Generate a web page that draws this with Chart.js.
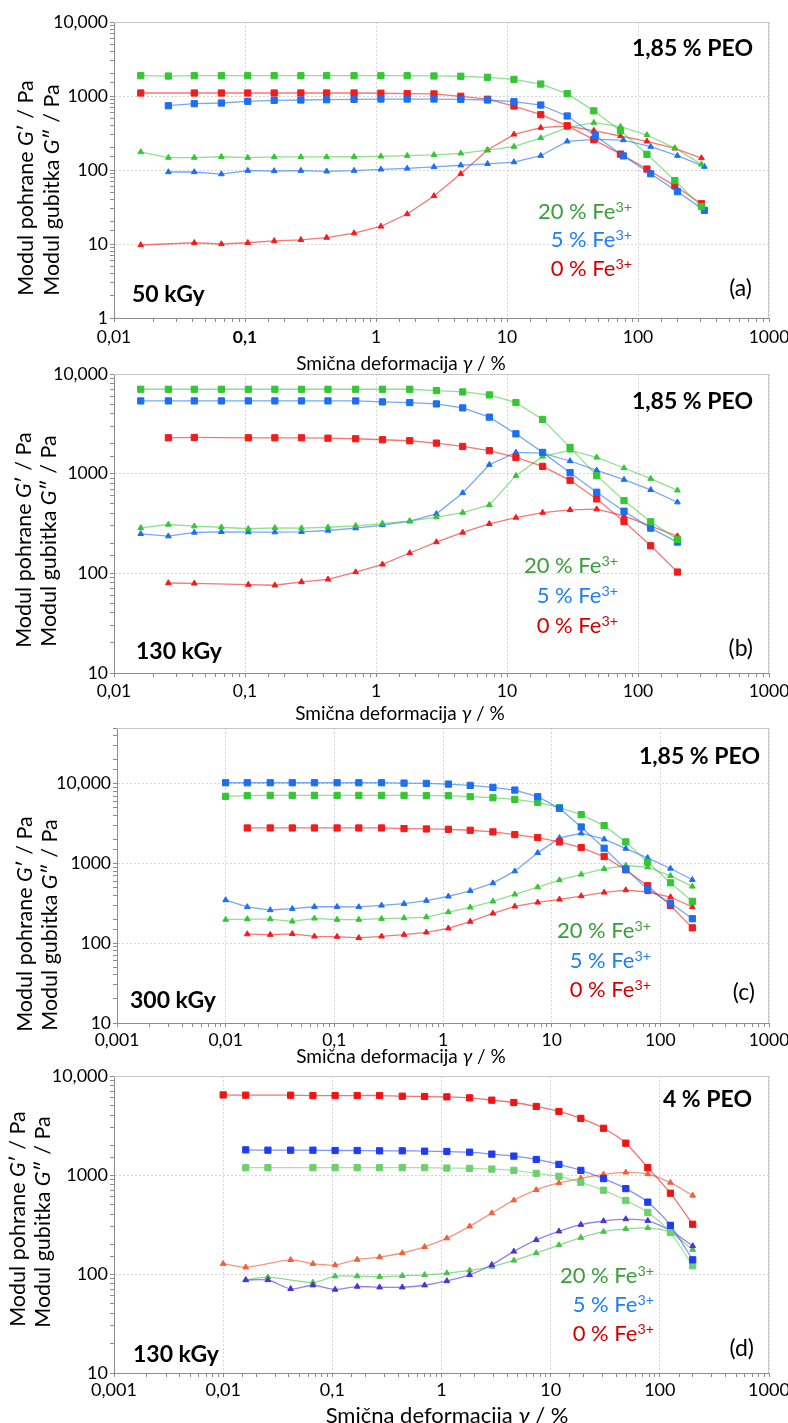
<!DOCTYPE html>
<html>
<head>
<meta charset="utf-8">
<script src="https://cdn.jsdelivr.net/npm/chart.js@4.4.1/dist/chart.umd.min.js"></script>
<style>
  body { margin: 0; width: 788px; height: 1423px; background: #fff; position: relative; overflow: hidden;
         font-family: Lato, "Open Sans", sans-serif; color: #000; }
  canvas { position: absolute; left: 0; }
  .t { position: absolute; white-space: nowrap; line-height: 1; }
  .ytitle { transform: translate(-50%, -50%) rotate(-90deg); font-size: 21.5px; }
  .xtitle { transform: translate(-50%, -50%); font-size: 19px; }
  .right { transform: translate(-100%, -50%); }
  .left { transform: translate(0, -50%); }
  .bold { font-weight: bold; font-size: 23px; }
  .fe { font-size: 22px; }
  .tag { font-size: 23px; }
  sup { font-size: 0.65em; vertical-align: 0.5em; line-height: 0; }
</style>
</head>
<body>
<canvas id="chartA" width="788" height="350" style="top:0"></canvas>
<canvas id="chartB" width="788" height="350" style="top:350px"></canvas>
<canvas id="chartC" width="788" height="360" style="top:700px"></canvas>
<canvas id="chartD" width="788" height="363" style="top:1060px"></canvas>

<script>
// tick labels
const xTickLabels = ["0,001", "0,01", "0,1", "1", "10", "100", "1000"];
const yTickLabels = ["1", "10", "100", "1000", "10,000"];

// (a) 50 kGy, 1,85 % PEO -- strain in %, moduli in Pa
const xA = [0.016, 0.026, 0.041, 0.066, 0.105, 0.167, 0.267, 0.42, 0.68, 1.09, 1.73, 2.77, 4.44, 7.1, 11.3, 18.1, 28.8, 46, 73.5, 117, 191, 305];
const xA5 = [0.016, 0.026, 0.041, 0.066, 0.105, 0.167, 0.267, 0.42, 0.68, 1.09, 1.73, 2.77, 4.44, 7.1, 11.3, 18.1, 28.8, 47.2, 77.3, 125, 200, 321];
const aStore20 = [1880, 1860, 1880, 1880, 1880, 1880, 1880, 1880, 1880, 1880, 1880, 1865, 1850, 1790, 1680, 1450, 1075, 630, 340, 163, 72, 32];
const aStore5 = [null, 739, 787, 804, 848, 875, 883, 891, 902, 910, 910, 910, 902, 883, 838, 755, 537, 291, 155, 89, 51, 28.5];
const aStore0 = [1098, null, 1098, 1098, 1098, 1098, 1098, 1098, 1098, 1090, 1075, 1067, 991, 905, 732, 559, 397, 257, 164, 103, 61, 35];
const aLoss20 = [175, 147, 147, 151, 147, 150, 150, 150, 151, 153, 156, 160, 168, 185, 207, 271, 373, 436, 385, 297, 198, 119];
const aLoss5 = [null, 94, 94, 88, 98, 97, 98, 96, 98, 102, 105, 110, 116, 121, 128, 156, 244, 260, 254, 207, 156, 111];
const aLoss0 = [9.7, null, 10.4, 10.0, 10.4, 11.0, 11.4, 12.2, 14.0, 17.3, 25.4, 44.6, 89, 186, 303, 373, 393, 340, 288, 244, 196, 145];

// (b) 130 kGy, 1,85 % PEO
const xB = [0.016, 0.026, 0.041, 0.066, 0.106, 0.169, 0.27, 0.43, 0.70, 1.12, 1.81, 2.89, 4.59, 7.33, 11.7, 18.7, 30.3, 48.4, 78.2, 125, 200];
const bStore20 = [7030, 7030, 7030, 7030, 7030, 7030, 7030, 7030, 7030, 7030, 7030, 6810, 6610, 6170, 5170, 3500, 1834, 955, 537, 329, 219];
const bStore5 = [5370, 5370, 5370, 5370, 5370, 5370, 5370, 5370, 5370, 5250, 5170, 5010, 4570, 3690, 2510, 1635, 1023, 651, 420, 284, 206];
const bStore0 = [null, 2290, 2310, null, 2290, 2290, 2290, 2270, 2240, 2190, 2140, 2026, 1876, 1700, 1456, 1184, 858, 558, 331, 189, 103];
const bLoss20 = [286, 309, 297, 290, 280, 286, 284, 290, 300, 316, 334, 366, 407, 486, 955, 1490, 1712, 1456, 1140, 891, 681];
const bLoss5 = [249, 236, 257, 261, 259, 259, 261, 269, 284, 305, 334, 395, 641, 1230, 1635, 1610, 1340, 1080, 871, 688, 517];
const bLoss0 = [null, 80, 79.4, null, 77, 75.9, 82, 87, 103, 123, 160, 206, 257, 314, 363, 407, 433, 440, 377, 297, 236];

// (c) 300 kGy, 1,85 % PEO
const xC = [0.01, 0.0158, 0.0257, 0.041, 0.0656, 0.106, 0.168, 0.272, 0.438, 0.703, 1.12, 1.78, 2.88, 4.58, 7.44, 11.8, 18.7, 30.4, 48.1, 76.4, 124, 197];
const cStore20 = [6945, 7080, 7150, 7150, 7150, 7150, 7150, 7150, 7150, 7080, 7080, 6880, 6680, 6370, 5840, 5010, 4100, 2985, 1866, 1039, 573, 335];
const cStore5 = [10290, 10290, 10290, 10290, 10290, 10290, 10290, 10290, 10190, 10100, 9900, 9530, 9000, 8330, 6880, 4920, 2870, 1555, 849, 477, 319, 203];
const cStore0 = [null, 2790, 2790, 2790, 2790, 2790, 2790, 2790, 2738, 2712, 2685, 2610, 2490, 2305, 2113, 1866, 1585, 1223, 833, 526, 298, 156];
const cLoss20 = [198, 201, 201, 188, 205, 198, 198, 203, 207, 213, 246, 282, 335, 410, 506, 619, 729, 858, 944, 900, 701, 516];
const cLoss5 = [348, 285, 261, 271, 287, 287, 285, 298, 313, 342, 387, 455, 567, 801, 1360, 2094, 2395, 2015, 1540, 1178, 866, 625];
const cLoss0 = [null, 130, 128, 131, 122, 121, 117, 122, 128, 137, 154, 187, 237, 290, 325, 355, 391, 434, 464, 439, 380, 285];

// (d) 130 kGy, 4 % PEO
const xD = [0.01, 0.0161, 0.0257, 0.0415, 0.0664, 0.106, 0.169, 0.271, 0.437, 0.700, 1.12, 1.81, 2.89, 4.60, 7.38, 11.9, 18.9, 30.5, 48.8, 77.6, 125, 200];
const dStore0 = [6440, 6400, null, 6400, 6350, 6350, 6350, 6350, 6250, 6210, 6155, 6015, 5700, 5400, 4925, 4385, 3733, 2964, 2096, 1185, 655, 318];
const dStore5 = [null, 1795, 1781, 1781, 1781, 1768, 1768, 1755, 1755, 1741, 1728, 1701, 1625, 1552, 1436, 1280, 1114, 919, 729, 532, 310, 139];
const dStore20 = [null, 1185, 1185, null, 1185, 1185, 1185, 1185, 1185, 1185, 1175, 1166, 1148, 1114, 1039, 970, 844, 702, 552, 419, 262, 121];
const dLoss0 = [127, 117, null, 139, 127, 123, 140, 148, 163, 188, 230, 303, 412, 557, 707, 831, 926, 1015, 1063, 1023, 838, 621];
const dLoss5 = [null, 87, 87, 70.8, 77, 69.7, 74.7, 73.5, 73.5, 77, 85, 98, 124, 169, 221, 270, 315, 343, 359, 345, 274, 192];
const dLoss20 = [null, 87, 93, null, 82, 95, 95, 94, 96, 98, 102, 109, 119, 137, 163, 196, 233, 268, 285, 292, 262, 176];

const FONT = 'Lato, "Open Sans", sans-serif';

function isDecade(v) {
  const e = Math.log10(v);
  return Math.abs(e - Math.round(e)) < 1e-6;
}

function decadeLabel(v, labels, firstExp) {
  if (!isDecade(v)) return "";
  return labels[Math.round(Math.log10(v)) - firstExp] || "";
}

function series(xs, ys, color, line, shape) {
  const pts = [];
  xs.forEach((x, i) => {
    if (ys[i] != null) pts.push({ x: x, y: ys[i] });
  });
  return {
    data: pts,
    borderColor: line,
    backgroundColor: color,
    pointBackgroundColor: color,
    pointBorderColor: color,
    pointStyle: shape,
    pointRadius: shape === "rect" ? 4.4 : 3.3,
    pointBorderWidth: 1,
    borderWidth: 1.3,
  };
}

// light frame on top and right of the plot area
const frame = {
  id: "frame",
  beforeDatasetsDraw(chart) {
    const { ctx, chartArea: a } = chart;
    ctx.save();
    ctx.strokeStyle = "#c8c8c8";
    ctx.lineWidth = 1;
    ctx.beginPath();
    ctx.moveTo(a.left, a.top + 0.5);
    ctx.lineTo(a.right - 0.5, a.top + 0.5);
    ctx.lineTo(a.right - 0.5, a.bottom);
    ctx.stroke();
    ctx.restore();
  },
};

function gridColor(c) {
  return c.tick && isDecade(c.tick.value) ? "#d6d6d6" : "rgba(0,0,0,0)";
}

function drawPanel(id, p) {
  const canvas = document.getElementById(id);
  const H = canvas.height;
  return new Chart(canvas, {
    type: "line",
    data: { datasets: p.datasets },
    options: {
      responsive: false,
      animation: false,
      events: [],
      layout: { padding: { left: 0, top: p.top, right: 788 - p.right, bottom: 0 } },
      elements: { line: { tension: p.tension || 0 } },
      plugins: { legend: { display: false }, tooltip: { enabled: false } },
      scales: {
        x: {
          type: "logarithmic",
          min: p.xMin,
          max: 1000,
          border: { color: "#8c8c8c", dash: [2, 2] },
          grid: { color: gridColor, tickColor: "#8c8c8c", tickLength: 4 },
          ticks: {
            autoSkip: false,
            maxRotation: 0,
            minRotation: 0,
            padding: p.xPad,
            color: "#000",
            font: (c) => ({
              family: FONT,
              size: p.tickSize,
              weight: p.boldTenth && c.tick && Math.abs(c.tick.value - 0.1) < 1e-9 ? "bold" : "normal",
            }),
            callback: (v) => decadeLabel(v, xTickLabels, -3),
          },
          afterFit: (s) => {
            s.height = H - p.bottom;
            s.paddingLeft = 0;
            s.paddingRight = 0;
          },
        },
        y: {
          type: "logarithmic",
          min: p.yMin,
          max: p.yMax,
          border: { color: "#8c8c8c", dash: [2, 2] },
          grid: { color: gridColor, tickColor: "#8c8c8c", tickLength: 4 },
          ticks: {
            autoSkip: false,
            padding: 2,
            color: "#000",
            font: { family: FONT, size: p.tickSize },
            callback: (v) => decadeLabel(v, yTickLabels, 0),
          },
          afterFit: (s) => {
            s.width = p.left;
            s.paddingTop = 0;
            s.paddingBottom = 0;
          },
        },
      },
    },
    plugins: [frame],
  });
}

// colours
const G = "#34c634", GL = "rgba(52,198,52,0.55)";
const B = "#1c6ef4", BL = "rgba(28,110,244,0.6)";
const R = "#f21c1c", RL = "rgba(242,28,28,0.6)";

drawPanel("chartA", {
  left: 114, right: 769, top: 22, bottom: 318, xMin: 0.01, yMin: 1, yMax: 10000,
  tickSize: 17.5, xPad: 5, boldTenth: true,
  datasets: [
    series(xA, aStore20, G, GL, "rect"),
    series(xA5, aStore5, B, BL, "rect"),
    series(xA, aStore0, R, RL, "rect"),
    series(xA, aLoss20, G, GL, "triangle"),
    series(xA5, aLoss5, B, BL, "triangle"),
    series(xA, aLoss0, R, RL, "triangle"),
  ],
});

drawPanel("chartB", {
  left: 114, right: 769, top: 24, bottom: 323, xMin: 0.01, yMin: 10, yMax: 10000,
  tickSize: 17.5, xPad: 4,
  datasets: [
    series(xB, bStore20, G, GL, "rect"),
    series(xB, bStore5, B, BL, "rect"),
    series(xB, bStore0, R, RL, "rect"),
    series(xB, bLoss20, G, GL, "triangle"),
    series(xB, bLoss5, B, BL, "triangle"),
    series(xB, bLoss0, R, RL, "triangle"),
  ],
});

drawPanel("chartC", {
  left: 117, right: 769, top: 28, bottom: 323, xMin: 0.001, yMin: 10, yMax: 50000,
  tickSize: 17.5, xPad: 3,
  datasets: [
    series(xC, cStore5, B, BL, "rect"),
    series(xC, cStore20, G, GL, "rect"),
    series(xC, cStore0, R, RL, "rect"),
    series(xC, cLoss5, B, BL, "triangle"),
    series(xC, cLoss20, G, GL, "triangle"),
    series(xC, cLoss0, R, RL, "triangle"),
  ],
});

drawPanel("chartD", {
  left: 114, right: 769, top: 16, bottom: 313, xMin: 0.001, yMin: 10, yMax: 10000,
  tickSize: 18, xPad: 2, tension: 0.25,
  datasets: [
    series(xD, dStore0, "#ef1414", "rgba(239,20,20,0.6)", "rect"),
    series(xD, dStore5, "#1e3cf5", "rgba(30,60,245,0.55)", "rect"),
    series(xD, dStore20, "#6dcf6d", "rgba(109,207,109,0.6)", "rect"),
    series(xD, dLoss0, "#f0603c", "rgba(240,96,60,0.65)", "triangle"),
    series(xD, dLoss5, "#4a34d6", "rgba(74,52,214,0.6)", "triangle"),
    series(xD, dLoss20, "#48c248", "rgba(72,194,72,0.6)", "triangle"),
  ],
});

// text placed over the canvases
const yTitle1 = "Modul pohrane <i>G</i>′ / Pa";
const yTitle2 = "Modul gubitka <i>G</i>″ / Pa";
const xTitle = "Smična deformacija <i>γ</i> / %";
const feLabels = [
  ["20 % Fe<sup>3+</sup>", "#3a9e3a"],
  ["5 % Fe<sup>3+</sup>", "#2080f0"],
  ["0 % Fe<sup>3+</sup>", "#d40000"],
];

function addText(html, cls, x, y, style) {
  const el = document.createElement("div");
  el.className = "t " + cls;
  el.innerHTML = html;
  el.style.left = x + "px";
  el.style.top = y + "px";
  if (style) Object.assign(el.style, style);
  document.body.appendChild(el);
}

const panelText = [
  { yt: [26, 188, 52, 190], xt: [401, 362], peo: "1,85 % PEO", peoAt: [753, 47], dose: "50 kGy", doseAt: [132, 293], tag: "(a)", tagAt: [752, 287], feRight: 632, feY: [211, 239, 268] },
  { yt: [24, 540, 49, 541], xt: [400, 712], peo: "1,85 % PEO", peoAt: [753, 400], dose: "130 kGy", doseAt: [136, 650], tag: "(b)", tagAt: [753, 647], feRight: 618, feY: [565, 595, 625] },
  { yt: [25, 924, 50, 925], xt: [401, 1055], peo: "1,85 % PEO", peoAt: [760, 755], dose: "300 kGy", doseAt: [130, 999], tag: "(c)", tagAt: [755, 991], feRight: 651, feY: [930, 960, 989] },
  { yt: [18, 1219, 43, 1222], xt: [447, 1415], xSize: "22px", peo: "4 % PEO", peoAt: [752, 1098], dose: "130 kGy", doseAt: [133, 1353], tag: "(d)", tagAt: [754, 1347], feRight: 654, feY: [1275, 1304, 1333] },
];

panelText.forEach((p) => {
  addText(yTitle1, "ytitle", p.yt[0], p.yt[1]);
  addText(yTitle2, "ytitle", p.yt[2], p.yt[3]);
  addText(xTitle, "xtitle", p.xt[0], p.xt[1], p.xSize ? { fontSize: p.xSize } : null);
  addText(p.peo, "bold right", p.peoAt[0], p.peoAt[1]);
  addText(p.dose, "bold left", p.doseAt[0], p.doseAt[1]);
  addText(p.tag, "tag right", p.tagAt[0], p.tagAt[1]);
  feLabels.forEach((f, i) => {
    addText(f[0], "fe right", p.feRight, p.feY[i], { color: f[1] });
  });
});
</script>
</body>
</html>
